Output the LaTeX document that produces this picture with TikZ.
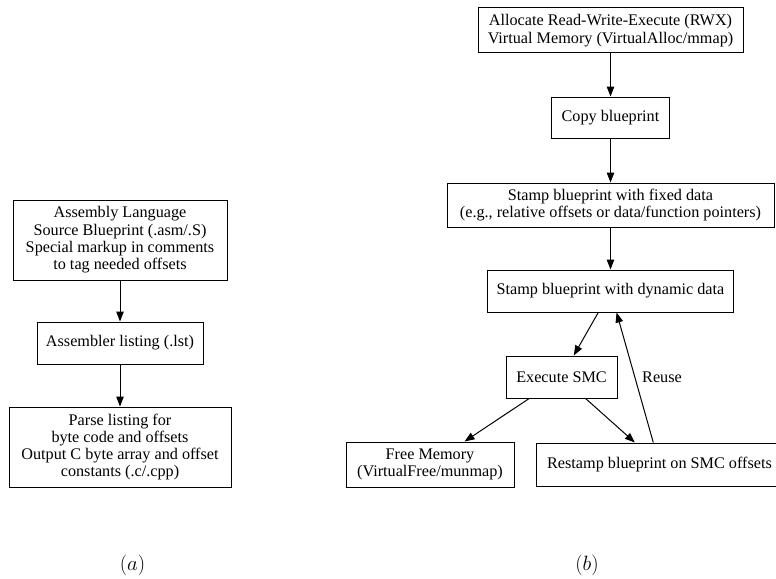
\documentclass[tikz,border=0pt]{standalone}
\usepackage{fontspec}
\setmainfont{Liberation Serif}
\usetikzlibrary{arrows.meta}
\tikzset{
  box/.style={draw=black, line width=1pt, inner sep=0pt, align=center,
    font=\fontsize{16.2}{17.3}\selectfont},
  flow/.style={draw=black, line width=1pt, -{Triangle[length=10pt,width=7.5pt]}},
  subcaption/.style={anchor=base, font=\fontsize{21}{24}\selectfont}
}
\begin{document}
\begin{tikzpicture}[x=1pt,y=-1pt]
\clip (0,0) rectangle (776,578);
\fill[white] (0,0) rectangle (776,578);
% (a)
\node[box, minimum width=214pt, minimum height=80pt] (a1) at (120,240)
  {Assembly Language\\Source Blueprint (.asm/.S)\\Special markup in comments\\to tag needed offsets};
\node[box, minimum width=166pt, minimum height=42pt] (a2) at (120,343)
  {Assembler listing (.lst)};
\node[box, minimum width=222pt, minimum height=80pt] (a3) at (120,447)
  {Parse listing for\\byte code and offsets\\Output C byte array and offset\\constants (.c/.cpp)};
\draw[flow] (a1) -- (a2);
\draw[flow] (a2) -- (a3);
% (b)
\node[box, minimum width=265pt, minimum height=45pt] (b1) at (610.5,30.5)
  {Allocate Read-Write-Execute (RWX)\\Virtual Memory (VirtualAlloc/mmap)};
\node[box, minimum width=118pt, minimum height=41pt] (b2) at (610.5,117.5)
  {Copy blueprint};
\node[box, minimum width=327pt, minimum height=44pt] (b3) at (610.5,205)
  {Stamp blueprint with fixed data\\(e.g., relative offsets or data/function pointers)};
\node[box, minimum width=246pt, minimum height=42pt] (b4) at (610.5,291)
  {Stamp blueprint with dynamic data};
\node[box, minimum width=111pt, minimum height=42pt] (b5) at (561.5,377)
  {Execute SMC};
\node[box, minimum width=168pt, minimum height=45pt] (b6) at (430,464.5)
  {Free Memory\\(VirtualFree/munmap)};
\node[box, minimum width=247pt, minimum height=43pt] (b7) at (659.5,464.5)
  {Restamp blueprint on SMC offsets};
\draw[flow] (b1) -- (b2);
\draw[flow] (b2) -- (b3);
\draw[flow] (b3) -- (b4);
\draw[flow] (b4) -- (b5);
\draw[flow] (b5) -- (b6);
\draw[flow] (b5) -- (b7);
\draw[flow] (b7) -- (b4);
\node[font=\fontsize{16.2}{17.3}\selectfont, anchor=west, inner sep=0pt] (reuse) at (642,377) {Reuse};
% captions
\node[subcaption] (capa) at (132.5,570) {$(a)$};
\node[subcaption] (capb) at (587,570) {$(b)$};
\end{tikzpicture}
\end{document}
